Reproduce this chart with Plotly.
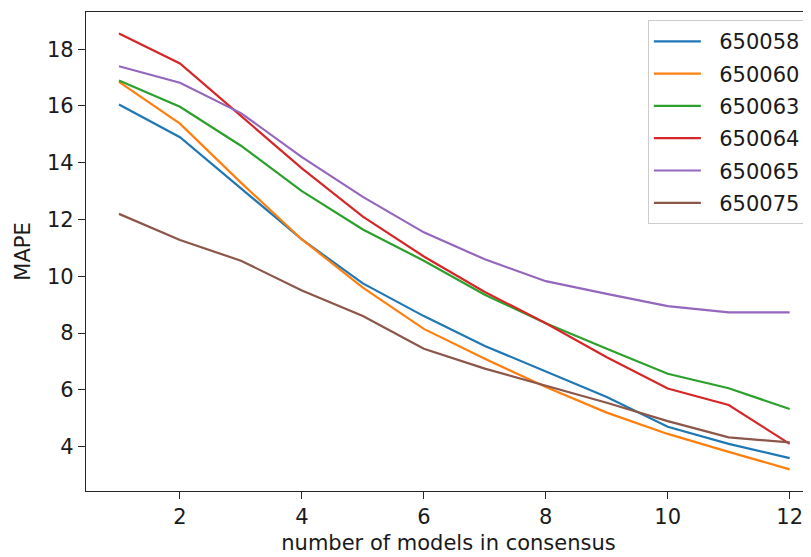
import plotly.graph_objects as go

n_models = [1, 2, 3, 4, 5, 6, 7, 8, 9, 10, 11, 12]
series_names = ["650058", "650060", "650063", "650064", "650065", "650075"]
mape_650058 = [16.05, 14.9, 13.1, 11.3, 9.75, 8.6, 7.55, 6.65, 5.75, 4.7, 4.1, 3.6]
mape_650060 = [16.85, 15.38, 13.3, 11.3, 9.6, 8.15, 7.1, 6.1, 5.2, 4.45, 3.82, 3.2]
mape_650063 = [16.9, 15.97, 14.6, 13.0, 11.65, 10.55, 9.35, 8.35, 7.45, 6.57, 6.06, 5.33]
mape_650064 = [18.55, 17.5, 15.65, 13.8, 12.1, 10.7, 9.45, 8.35, 7.15, 6.05, 5.47, 4.1]
mape_650065 = [17.4, 16.82, 15.75, 14.2, 12.8, 11.55, 10.6, 9.83, 9.38, 8.95, 8.73, 8.73]
mape_650075 = [12.2, 11.28, 10.55, 9.5, 8.6, 7.45, 6.75, 6.15, 5.55, 4.9, 4.33, 4.15]
colors = ["#1f77b4", "#ff7f0e", "#2ca02c", "#d62728", "#9467bd", "#8c564b"]

all_series = [mape_650058, mape_650060, mape_650063, mape_650064, mape_650065, mape_650075]

FONT = "DejaVu Sans"
FS = 21

fig = go.Figure()
for name, vals, col in zip(series_names, all_series, colors):
    fig.add_trace(go.Scatter(x=n_models, y=vals, mode="lines",
                             name="\u00a0\u00a0" + name,
                             legendgroup=name,
                             line=dict(color=col, width=2.2)))

axis_common = dict(
    showline=True, linecolor="#262626", linewidth=1.3,
    ticks="outside", ticklen=7, tickwidth=1.3, tickcolor="#262626",
    showgrid=False, zeroline=False, automargin=False,
    tickfont=dict(family=FONT, size=FS, color="#1a1a1a"),
)

# page body has an 8px margin, so the figure is sized/offset to compensate
fig.update_layout(
    width=803, height=549,
    margin=dict(l=78, r=0, t=4, b=66),
    paper_bgcolor="white", plot_bgcolor="white",
    font=dict(family=FONT, size=FS, color="#1a1a1a"),
    xaxis=dict(range=[0.459, 12.35], tickvals=[2, 4, 6, 8, 10, 12], mirror=True,
               title=dict(text="number of models in consensus", standoff=6,
                          font=dict(family=FONT, size=FS)),
               **axis_common),
    yaxis=dict(range=[2.44, 19.31], tickvals=[4, 6, 8, 10, 12, 14, 16, 18], mirror=False,
               title=dict(text="MAPE", standoff=10, font=dict(family=FONT, size=FS)),
               **axis_common),
    legend=dict(x=0.775, y=0.983, xanchor="left", yanchor="top",
                bgcolor="rgba(255,255,255,0.8)", bordercolor="#cccccc", borderwidth=1,
                font=dict(family=FONT, size=FS), itemwidth=47, tracegroupgap=2),
    showlegend=True,
)

fig.write_html("out.html")
